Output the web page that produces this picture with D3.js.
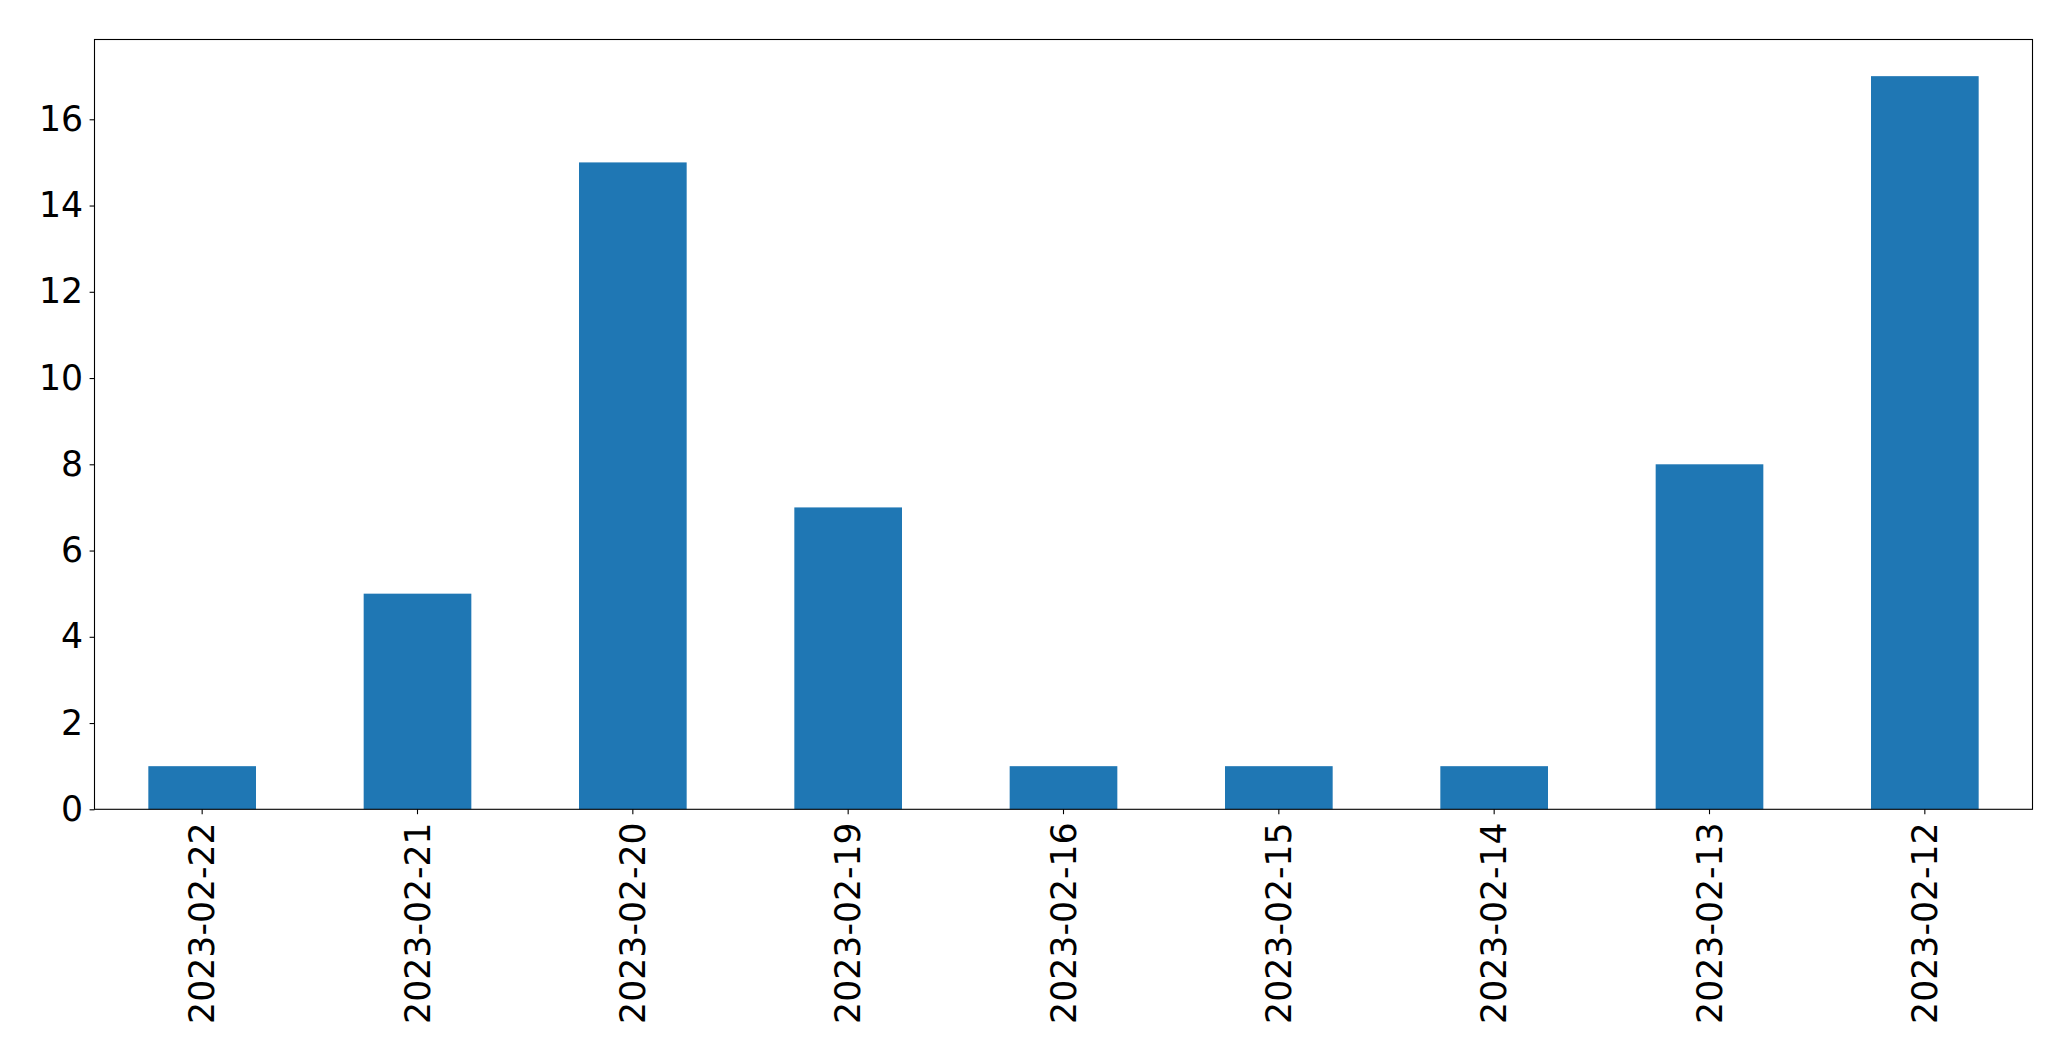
<!DOCTYPE html>
<html>
<head>
<meta charset="utf-8">
<script src="https://cdn.jsdelivr.net/npm/d3@7"></script>
<style>
  html, body { margin: 0; padding: 0; background: #fff; }
  svg { display: block; }
  text { font-family: "DejaVu Sans", sans-serif; fill: #000; }
</style>
</head>
<body>
<svg id="chart" width="2071" height="1061"></svg>
<script>
const categories = ["2023-02-22", "2023-02-21", "2023-02-20", "2023-02-19", "2023-02-16", "2023-02-15", "2023-02-14", "2023-02-13", "2023-02-12"];
const values = [1, 5, 15, 7, 1, 1, 1, 8, 17];
const yTicks = [0, 2, 4, 6, 8, 10, 12, 14, 16];

const margin = { left: 94.5, right: 2071 - 2032.5, top: 39.5, bottom: 1061 - 809.3 };
const W = 2071, H = 1061;
const iw = W - margin.left - margin.right;
const ih = H - margin.top - margin.bottom;

const svg = d3.select("#chart");
const g = svg.append("g").attr("transform", `translate(${margin.left},${margin.top})`);

const x = d3.scaleBand().domain(categories).range([0, iw]).paddingInner(0.5).paddingOuter(0.25);
const y = d3.scaleLinear().domain([0, d3.max(values) * 1.05]).range([ih, 0]);

g.selectAll("rect.bar").data(values).enter().append("rect")
  .attr("class", "bar")
  .attr("x", (d, i) => x(categories[i]))
  .attr("width", x.bandwidth())
  .attr("y", d => y(d))
  .attr("height", d => y(0) - y(d))
  .attr("fill", "#1f77b4");

const fs = 34.7;
const xAxis = g.append("g").attr("transform", `translate(0,${ih})`)
  .call(d3.axisBottom(x).tickSize(4.9).tickPadding(4.9));
xAxis.select(".domain").remove();
xAxis.selectAll("line").attr("stroke", "#000").attr("stroke-width", 1.1);
xAxis.selectAll("text")
  .attr("font-size", fs)
  .attr("font-family", "DejaVu Sans")
  .attr("transform", "rotate(-90)")
  .attr("text-anchor", "end")
  .attr("x", -13)
  .attr("y", 0)
  .attr("dy", "0.35em");

const yAxis = g.append("g")
  .call(d3.axisLeft(y).tickValues(yTicks).tickFormat(d3.format("d")).tickSize(4.9).tickPadding(6.5));
yAxis.select(".domain").remove();
yAxis.selectAll("line").attr("stroke", "#000").attr("stroke-width", 1.1);
yAxis.selectAll("text").attr("font-size", fs).attr("font-family", "DejaVu Sans");

g.append("rect")
  .attr("x", 0).attr("y", 0).attr("width", iw).attr("height", ih)
  .attr("fill", "none").attr("stroke", "#000").attr("stroke-width", 1.1);
</script>
</body>
</html>
